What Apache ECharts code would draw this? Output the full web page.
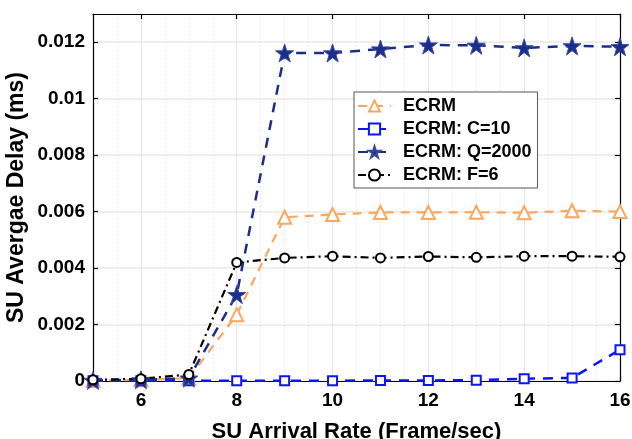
<!DOCTYPE html>
<html><head><meta charset="utf-8">
<script src="https://cdn.jsdelivr.net/npm/echarts@6/dist/echarts.min.js"></script>
<style>html,body{margin:0;padding:0;background:#fff}#c{width:632px;height:439px}</style>
</head><body><div id="c"></div>
<script>
var xValues = [5, 6, 7, 8, 9, 10, 11, 12, 13, 14, 15, 16];
var ecrm     = [0.00002, 0.00004, 0.0001, 0.00235, 0.0058, 0.0059, 0.00597, 0.00597, 0.00598, 0.00596, 0.00603, 0.006];
var ecrmC10  = [0.00001, 0.00001, 0.00001, 0.00001, 0.00001, 0.00001, 0.00002, 0.00002, 0.00003, 0.00008, 0.00011, 0.00111];
var ecrmQ2000= [0.00002, 0.00004, 0.0001, 0.00306, 0.01162, 0.01162, 0.01176, 0.0119, 0.01189, 0.0118, 0.01187, 0.01184];
var ecrmF6   = [0.00004, 0.00008, 0.00023, 0.0042, 0.00436, 0.00442, 0.00436, 0.00441, 0.00438, 0.00442, 0.00442, 0.0044];
var seriesNames = ['ECRM', 'ECRM: C=10', 'ECRM: Q=2000', 'ECRM: F=6'];
var xTicks = [6, 8, 10, 12, 14, 16];
var yTicks = [0, 0.002, 0.004, 0.006, 0.008, 0.01, 0.012];
var xName = 'SU Arrival Rate (Frame/sec)';
var yName = 'SU Avergae Delay (ms)';

function pairs(arr){ return arr.map(function(v,i){ return [xValues[i], v]; }); }
var FONT = "'Liberation Sans', Arial, sans-serif";
var star = 'path://M50,0 L61.8,35.5 L99,35.5 L69,57.5 L80.5,93 L50,71 L19.5,93 L31,57.5 L1,35.5 L38.2,35.5 Z';

var chart = echarts.init(document.getElementById('c'), null, {renderer:'canvas'});
var axisFont = {fontFamily: FONT, fontWeight: 'bold', fontSize: 19, color: '#000'};
var blackLine = {color: '#000', width: 1.2};
chart.setOption({
  animation: false,
  backgroundColor: '#fff',
  grid: {left: 93, right: 12, top: 14, bottom: 58, show: false, containLabel: false, outerBoundsMode: 'none'},
  legend: {
    left: 354, top: 92, orient: 'vertical',
    data: seriesNames,
    backgroundColor: '#fff', borderColor: '#555', borderWidth: 1,
    padding: [5, 6, 4, 3], itemGap: 5, itemWidth: 33, itemHeight: 14,
    textStyle: {fontFamily: FONT, fontWeight: 'bold', fontSize: 18, color: '#000', padding: [0, 0, 0, 7]}
  },
  xAxis: [{
    type: 'value', min: 5, max: 16, interval: 0.5, position: 'bottom',
    axisLine: {show: false}, axisTick: {show: false}, axisLabel: {show: false},
    splitLine: {show: true, lineStyle: {color: '#d8d8d8', type: [1, 3], width: 1}}
  }, {
    type: 'value', min: 5, max: 16, interval: 1, position: 'bottom',
    name: xName, nameLocation: 'middle', nameGap: 40,
    nameTextStyle: {fontFamily: FONT, fontWeight: 'bold', fontSize: 22, color: '#000'},
    axisLine: {onZero: false, lineStyle: blackLine},
    axisTick: {inside: true, length: 5, lineStyle: blackLine, customValues: xTicks},
    axisLabel: Object.assign({margin: 10, customValues: xTicks}, axisFont),
    splitLine: {show: true, lineStyle: {color: '#e3e3e3', width: 1}}
  }, {
    type: 'value', min: 5, max: 16, interval: 1, position: 'top',
    axisLine: {onZero: false, lineStyle: blackLine},
    axisTick: {inside: true, length: 5, lineStyle: blackLine, customValues: xTicks},
    axisLabel: {show: false}, splitLine: {show: false}
  }],
  yAxis: [{
    type: 'value', min: 0, max: 0.013, interval: 0.002,
    name: yName, nameLocation: 'middle', nameGap: 65, nameMoveOverlap: false,
    nameTextStyle: {fontFamily: FONT, fontWeight: 'bold', fontSize: 23, color: '#000'},
    axisLine: {show: true, onZero: false, lineStyle: blackLine},
    axisTick: {show: true, inside: true, length: 5, lineStyle: blackLine, customValues: yTicks},
    axisLabel: Object.assign({margin: 8, customValues: yTicks,
      formatter: function(v){ return String(Math.round(v*1000)/1000); }}, axisFont),
    splitLine: {show: true, lineStyle: {color: '#e8e8e8', width: 1.5}}
  }, {
    type: 'value', min: 0, max: 0.013, interval: 0.002, position: 'right',
    axisLine: {show: true, onZero: false, lineStyle: blackLine},
    axisTick: {show: true, inside: true, length: 5, lineStyle: blackLine, customValues: yTicks},
    axisLabel: {show: false}, splitLine: {show: false}
  }],
  series: [{
    name: seriesNames[0], type: 'line', xAxisIndex: 1, data: pairs(ecrm),
    symbol: 'triangle', symbolSize: 13,
    lineStyle: {color: '#FBA75E', width: 2.2, type: [9, 7]},
    itemStyle: {color: '#fff', borderColor: '#FBA75E', borderWidth: 2},
    color: '#FBA75E'
  }, {
    name: seriesNames[1], type: 'line', xAxisIndex: 1, data: pairs(ecrmC10),
    symbol: 'rect', symbolSize: 9,
    lineStyle: {color: '#0A14FF', width: 2.5, type: [10, 8]},
    itemStyle: {color: '#fff', borderColor: '#0A14FF', borderWidth: 2},
    color: '#0A14FF'
  }, {
    name: seriesNames[2], type: 'line', xAxisIndex: 1, data: pairs(ecrmQ2000),
    symbol: star, symbolSize: 18,
    lineStyle: {color: '#1C2E8C', width: 2.5, type: [10, 8]},
    itemStyle: {color: '#1C2E8C', borderColor: '#3a4aa0', borderWidth: 1},
    color: '#1C2E8C'
  }, {
    name: seriesNames[3], type: 'line', xAxisIndex: 1, data: pairs(ecrmF6),
    symbol: 'circle', symbolSize: 9,
    lineStyle: {color: '#000', width: 2.2, type: [8, 4, 2, 4]},
    itemStyle: {color: '#fff', borderColor: '#000', borderWidth: 2},
    color: '#000'
  }]
});
</script></body></html>
